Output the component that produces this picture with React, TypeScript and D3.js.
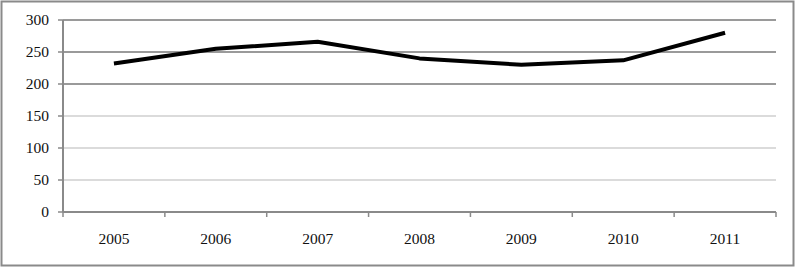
import React from "react";
import * as d3 from "d3";

const years = ["2005", "2006", "2007", "2008", "2009", "2010", "2011"];
const values = [232, 255, 266, 240, 230, 237, 280];
const yTicks = [0, 50, 100, 150, 200, 250, 300];

const W = 796, H = 268;
const left = 63, right = 776, top = 20, bottom = 212;

export default function App() {
  const x = d3.scaleBand<string>().domain(years).range([left, right]);
  const y = d3.scaleLinear().domain([0, 300]).range([bottom, top]);
  const line = d3
    .line<number>()
    .x((_, i) => (x(years[i]) as number) + x.bandwidth() / 2)
    .y((d) => y(d));
  const font = "'Liberation Serif', 'Times New Roman', serif";
  return (
    <svg width={W} height={H} style={{ position: "absolute", left: 0, top: 0, background: "#fff" }}>
      <rect x={1.5} y={1.5} width={792} height={264} fill="#fff" stroke="#8a8a8a" strokeWidth={2} />
      {yTicks.map((t) => (
        <g key={t}>
          {t > 0 && (
            <line x1={left} x2={right} y1={y(t)} y2={y(t)} stroke={t >= 200 ? "#9a9a9a" : "#cfcfcf"} strokeWidth={t >= 200 ? 2 : 1.5} />
          )}
          <line x1={left - 5} x2={left} y1={y(t)} y2={y(t)} stroke="#8a8a8a" strokeWidth={1.5} />
          <text x={49} y={y(t)} dy="0.35em" textAnchor="end" fontFamily={font} fontSize={15.5} fill="#111">
            {t}
          </text>
        </g>
      ))}
      <line x1={left} x2={left} y1={top} y2={bottom} stroke="#8a8a8a" strokeWidth={2} />
      <line x1={left} x2={right} y1={bottom} y2={bottom} stroke="#8a8a8a" strokeWidth={2} />
      {[...years.map((yr) => x(yr) as number), right].map((px, i) => (
        <line key={i} x1={px} x2={px} y1={bottom} y2={bottom + 5} stroke="#8a8a8a" strokeWidth={1.5} />
      ))}
      {years.map((yr) => (
        <text key={yr} x={(x(yr) as number) + x.bandwidth() / 2} y={244} textAnchor="middle" fontFamily={font} fontSize={15.5} fill="#111">
          {yr}
        </text>
      ))}
      <path d={line(values) || ""} fill="none" stroke="#000" strokeWidth={4} strokeLinejoin="round" />
    </svg>
  );
}
